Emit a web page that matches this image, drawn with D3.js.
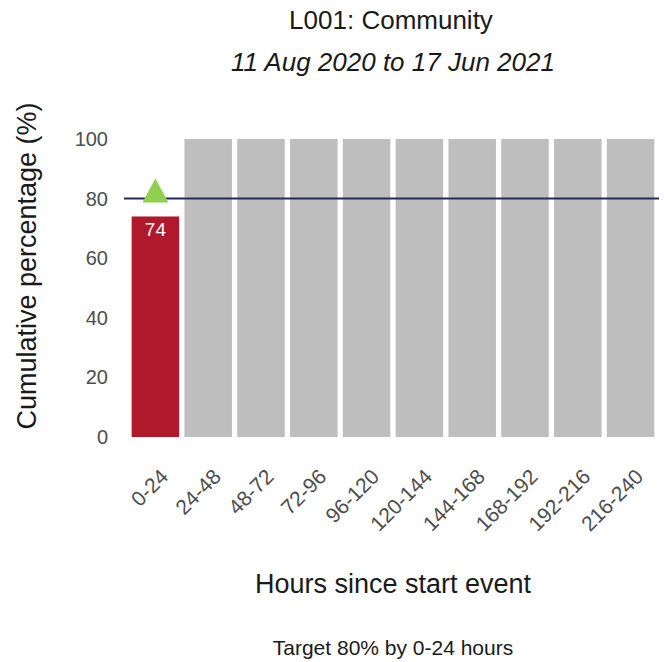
<!DOCTYPE html>
<html>
<head>
<meta charset="utf-8">
<script src="https://cdn.jsdelivr.net/npm/d3@7"></script>
<style>
  body { margin: 0; background: #fff; }
  text { font-family: "Liberation Sans", Arial, sans-serif; }
</style>
</head>
<body>
<div id="chart"></div>
<script>
const categories = ['0-24', '24-48', '48-72', '72-96', '96-120', '120-144', '144-168', '168-192', '192-216', '216-240'];
const values = [74, null, null, null, null, null, null, null, null, null];
const yTicks = [0, 20, 40, 60, 80, 100];
const target = 80;
const targetCategory = '0-24';

const width = 664, height = 662;
const margin = { top: 139, right: 7, bottom: 225, left: 129 };

const svg = d3.select('#chart').append('svg')
  .attr('width', width)
  .attr('height', height);

const x = d3.scaleBand()
  .domain(categories)
  .range([margin.left, width - margin.right])
  .paddingInner(0.1)
  .paddingOuter(0.05);

const y = d3.scaleLinear()
  .domain([0, 100])
  .range([height - margin.bottom, margin.top]);

// grey background bars where there is no value
svg.append('g').selectAll('rect')
  .data(categories.filter((c, i) => values[i] === null))
  .join('rect')
  .attr('x', d => x(d))
  .attr('y', y(100))
  .attr('width', x.bandwidth())
  .attr('height', y(0) - y(100))
  .attr('fill', '#bebebe');

const data = categories.map((c, i) => ({ cat: c, val: values[i] })).filter(d => d.val !== null);

svg.append('g').selectAll('rect')
  .data(data)
  .join('rect')
  .attr('x', d => x(d.cat))
  .attr('y', d => y(d.val))
  .attr('width', x.bandwidth())
  .attr('height', d => y(0) - y(d.val))
  .attr('fill', '#b0182b');

svg.append('g').selectAll('text')
  .data(data)
  .join('text')
  .attr('x', d => x(d.cat) + x.bandwidth() / 2)
  .attr('y', d => y(d.val) + 20)
  .attr('text-anchor', 'middle')
  .attr('fill', '#fff')
  .attr('font-size', 19)
  .text(d => d.val);

// target line
svg.append('line')
  .attr('x1', margin.left - 5)
  .attr('x2', width - 5)
  .attr('y1', y(target))
  .attr('y2', y(target))
  .attr('stroke', '#1f2d5c')
  .attr('stroke-width', 2);

// target marker
const tx = x(targetCategory) + x.bandwidth() / 2, ty = y(target);
svg.append('path')
  .attr('d', `M${tx},${ty - 20} L${tx + 13},${ty + 4} L${tx - 13},${ty + 4} Z`)
  .attr('fill', '#8fd14f');

// y axis
const yAxis = svg.append('g')
  .attr('transform', `translate(${margin.left},0)`)
  .call(d3.axisLeft(y).tickValues(yTicks).tickSize(0).tickPadding(21));
yAxis.select('.domain').remove();
yAxis.selectAll('text')
  .attr('font-size', 20)
  .attr('fill', '#4d4d4d')
  .attr('font-family', '"Liberation Sans", Arial, sans-serif');

// x axis
const xAxis = svg.append('g')
  .attr('transform', `translate(0,${y(0)})`)
  .call(d3.axisBottom(x).tickSize(0).tickPadding(0));
xAxis.select('.domain').remove();
xAxis.selectAll('text')
  .attr('font-size', 21)
  .attr('fill', '#4d4d4d')
  .attr('font-family', '"Liberation Sans", Arial, sans-serif')
  .attr('text-anchor', 'end')
  .attr('dy', null)
  .attr('y', 0)
  .attr('transform', 'translate(14,41) rotate(-45)');

// titles
svg.append('text')
  .attr('x', 391).attr('y', 29)
  .attr('text-anchor', 'middle')
  .attr('font-size', 26)
  .attr('fill', '#1a1a1a')
  .text('L001: Community');

svg.append('text')
  .attr('x', 393).attr('y', 71)
  .attr('text-anchor', 'middle')
  .attr('font-size', 26)
  .attr('font-style', 'italic')
  .attr('fill', '#1a1a1a')
  .text('11 Aug 2020 to 17 Jun 2021');

svg.append('text')
  .attr('transform', `translate(36,266) rotate(-90)`)
  .attr('text-anchor', 'middle')
  .attr('font-size', 27)
  .attr('fill', '#1a1a1a')
  .text('Cumulative percentage (%)');

svg.append('text')
  .attr('x', 393).attr('y', 593)
  .attr('text-anchor', 'middle')
  .attr('font-size', 27)
  .attr('fill', '#1a1a1a')
  .text('Hours since start event');

svg.append('text')
  .attr('x', 393).attr('y', 655)
  .attr('text-anchor', 'middle')
  .attr('font-size', 21)
  .attr('fill', '#1a1a1a')
  .text('Target 80% by 0-24 hours');
</script>
</body>
</html>
